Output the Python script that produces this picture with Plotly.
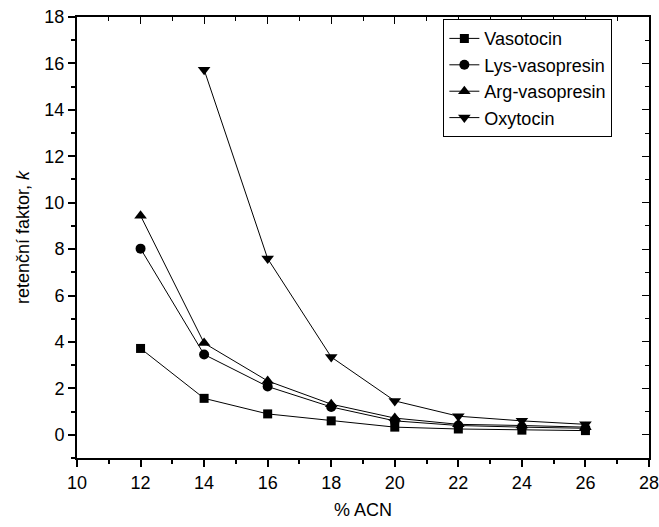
import plotly.graph_objects as go

acn = [12, 14, 16, 18, 20, 22, 24, 26]
acn_oxy = [14, 16, 18, 20, 22, 24, 26]

vasotocin = [3.72, 1.57, 0.90, 0.60, 0.33, 0.25, 0.20, 0.18]
lys_vasopresin = [8.02, 3.46, 2.08, 1.20, 0.60, 0.40, 0.33, 0.28]
arg_vasopresin = [9.44, 3.95, 2.32, 1.32, 0.72, 0.45, 0.40, 0.33]
oxytocin = [15.73, 7.59, 3.35, 1.46, 0.80, 0.60, 0.45]

x_ticks = list(range(10, 29, 2))
y_ticks = list(range(0, 19, 2))

FONT = "Liberation Sans, Arial, sans-serif"

series = [
    ("Vasotocin", acn, vasotocin, "square", 9),
    ("Lys-vasopresin", acn, lys_vasopresin, "circle", 10),
    ("Arg-vasopresin", acn, arg_vasopresin, "triangle-up", 11),
    ("Oxytocin", acn_oxy, oxytocin, "triangle-down", 11),
]

fig = go.Figure()
for name, xs, ys, sym, size in series:
    fig.add_trace(go.Scatter(
        x=xs, y=ys, name=name, mode="lines+markers",
        line=dict(color="black", width=1),
        marker=dict(symbol=sym, size=size, color="black"),
    ))

# invisible trace to activate the mirrored top/right axes
fig.add_trace(go.Scatter(x=[None], y=[None], xaxis="x2", yaxis="y2",
                         showlegend=False, hoverinfo="skip"))

axis_common = dict(
    showline=True, linecolor="black", linewidth=2, showgrid=False, zeroline=False,
    tickcolor="black", tickwidth=1.5, automargin=False, ticklabeloverflow="allow",
    tickfont=dict(family=FONT, size=18, color="black"),
)

fig.update_layout(
    width=659, height=527,
    margin=dict(l=77, r=10, t=17, b=69, autoexpand=False),
    plot_bgcolor="white", paper_bgcolor="white",
    font=dict(family=FONT, color="black"),
    xaxis=dict(
        range=[10, 28], tickvals=x_ticks, ticks="outside", ticklen=7,
        minor=dict(dtick=1, tick0=10, ticks="outside", ticklen=4, tickcolor="black"),
        title=dict(text="% ACN", font=dict(family=FONT, size=18), standoff=12),
        **axis_common,
    ),
    yaxis=dict(
        range=[-1, 18], tickvals=y_ticks, ticks="outside", ticklen=7,
        minor=dict(dtick=1, tick0=-1, ticks="outside", ticklen=4, tickcolor="black"),
        title=dict(text="retenční faktor, <i>k</i>", font=dict(family=FONT, size=18), standoff=10),
        **axis_common,
    ),
    xaxis2=dict(
        overlaying="x", side="top", matches="x", range=[10, 28], tickvals=x_ticks,
        ticks="inside", ticklen=7, showticklabels=False, automargin=False,
        minor=dict(dtick=1, tick0=10, ticks="inside", ticklen=4, tickcolor="black"),
        showline=True, linecolor="black", linewidth=2, showgrid=False, zeroline=False,
        tickcolor="black",
    ),
    yaxis2=dict(
        overlaying="y", side="right", matches="y", range=[-1, 18], tickvals=y_ticks,
        ticks="inside", ticklen=7, showticklabels=False, automargin=False,
        minor=dict(dtick=1, tick0=-1, ticks="inside", ticklen=4, tickcolor="black"),
        showline=True, linecolor="black", linewidth=2, showgrid=False, zeroline=False,
        tickcolor="black",
    ),
    legend=dict(
        x=0.6405, y=0.995, xanchor="left", yanchor="top",
        bordercolor="black", borderwidth=1, bgcolor="white",
        font=dict(family=FONT, size=18, color="black"),
        tracegroupgap=0, itemwidth=30,
    ),
    showlegend=True,
)

fig.write_html("out.html")
